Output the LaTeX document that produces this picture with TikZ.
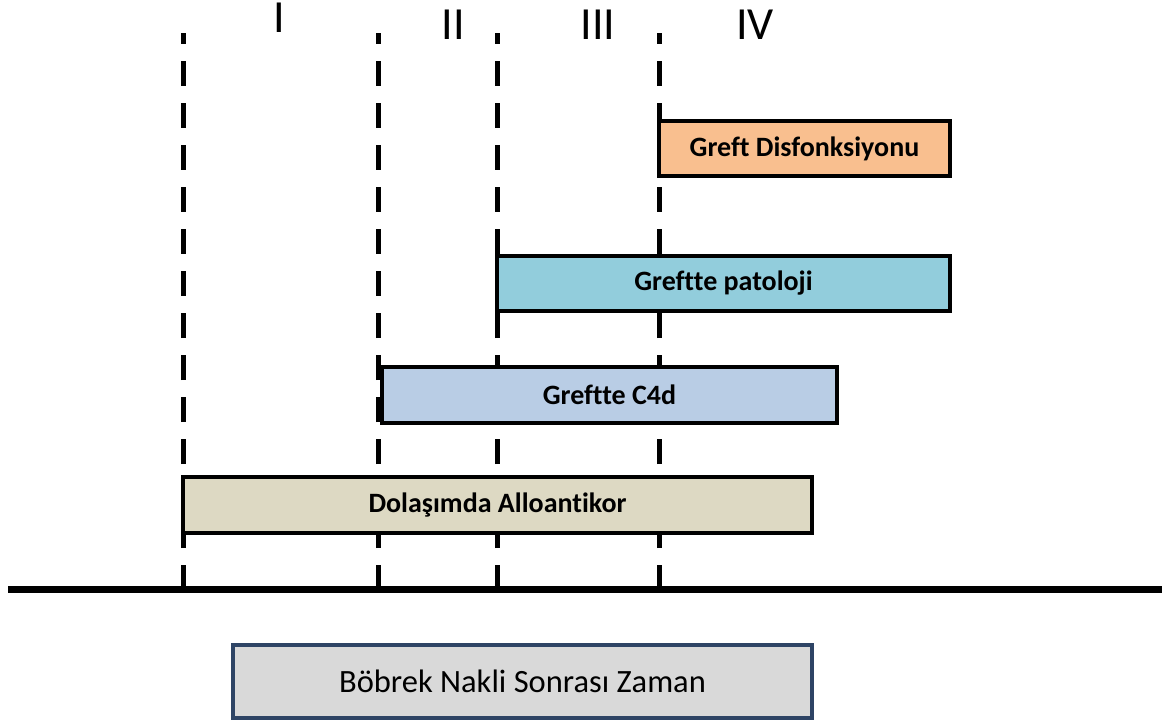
\documentclass[tikz,border=0pt]{standalone}
\usepackage{fontspec}
\setmainfont[Ligatures=NoCommon]{Carlito}
\usetikzlibrary{positioning}

\definecolor{dysfc}{HTML}{F9BF8F}
\definecolor{pathc}{HTML}{92CDDC}
\definecolor{cfourc}{HTML}{B9CDE5}
\definecolor{abc}{HTML}{DDD9C3}
\definecolor{timec}{HTML}{D9D9D9}
\definecolor{timeborder}{HTML}{2E4465}

\begin{document}
\begin{tikzpicture}[x=1pt, y=-1pt,
	bar/.style={rectangle, draw=black, line width=4.5pt, inner sep=0pt, outer sep=0pt, anchor=north west, text centered, font=\fontsize{28}{32}\selectfont\bfseries},
	phase/.style={inner sep=0pt, font=\fontsize{46}{50}\selectfont},
	tick/.style={line width=5pt, dash pattern=on 25pt off 17pt}
	]

	\useasboundingbox (0,0) rectangle (1168,722);

	% phase borders
	\coordinate (b1) at (183,590); \coordinate (t1) at (183,33);
	\coordinate (b2) at (378,590); \coordinate (t2) at (378,33);
	\coordinate (b3) at (497,590); \coordinate (t3) at (497,33);
	\coordinate (b4) at (659,590); \coordinate (t4) at (659,33);

	\draw [tick] (b1)--(t1);
	\draw [tick] (b2)--(t2);
	\draw [tick] (b3)--(t3);
	\draw [tick] (b4)--(t4);

	\node (one) [phase] at (279,18) {I};
	\node (two) [phase] at (453,25) {II};
	\node (three) [phase] at (598,25) {III};
	\node (four) [phase] at (755,25) {IV};

	% time axis
	\coordinate (axisw) at (8,589);
	\coordinate (axise) at (1162,589);
	\draw [line width=7pt] (axisw)--(axise);

	% bars
	\node (dysf) [bar, fill=dysfc, minimum width=291pt, minimum height=55pt] at (659,121) {Greft Disfonksiyonu};
	\node (path) [bar, fill=pathc, minimum width=453pt, minimum height=55pt] at (497,256) {Greftte patoloji};
	\node (cfour) [bar, fill=cfourc, minimum width=455pt, minimum height=56pt] at (382,367) {Greftte C4d};
	\node (ab) [bar, fill=abc, minimum width=629pt, minimum height=56pt] at (183,477) {Dolaşımda Alloantikor};

	\node (time) [bar, draw=timeborder, line width=4pt, fill=timec, minimum width=579pt, minimum height=73pt, font=\fontsize{32.5}{36}\selectfont] at (233,645) {Böbrek Nakli Sonrası Zaman};

\end{tikzpicture}
\end{document}
